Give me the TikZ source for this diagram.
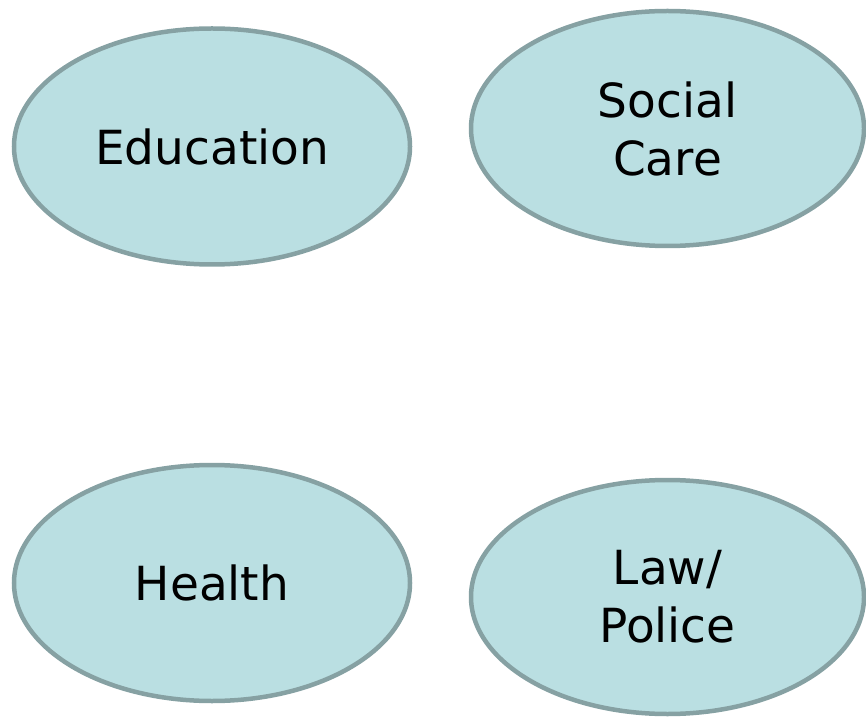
\documentclass[tikz,border=0pt]{standalone}
\usepackage{fontspec}
\setmainfont{DejaVu Sans}
\usetikzlibrary{shapes.geometric}
\definecolor{efill}{HTML}{BADFE2}
\definecolor{edraw}{HTML}{86A1A3}
\begin{document}
\begin{tikzpicture}[x=1pt,y=1pt,
  area/.style={ellipse, draw=edraw, fill=efill, line width=4.5pt, inner sep=0pt,
    align=center, font=\fontsize{47}{58}\selectfont, text=black}]
\useasboundingbox (0,0) rectangle (866,718);
\node[area, minimum width=396pt, minimum height=236pt] (edu) at (212,571.5) {Education};
\node[area, minimum width=393pt, minimum height=235pt] (soc) at (667.5,589.5) {Social\\Care};
\node[area, minimum width=396pt, minimum height=236pt] (hea) at (212,135) {Health};
\node[area, minimum width=393pt, minimum height=234pt] (law) at (667.5,121) {Law/\\Police};
\end{tikzpicture}
\end{document}
